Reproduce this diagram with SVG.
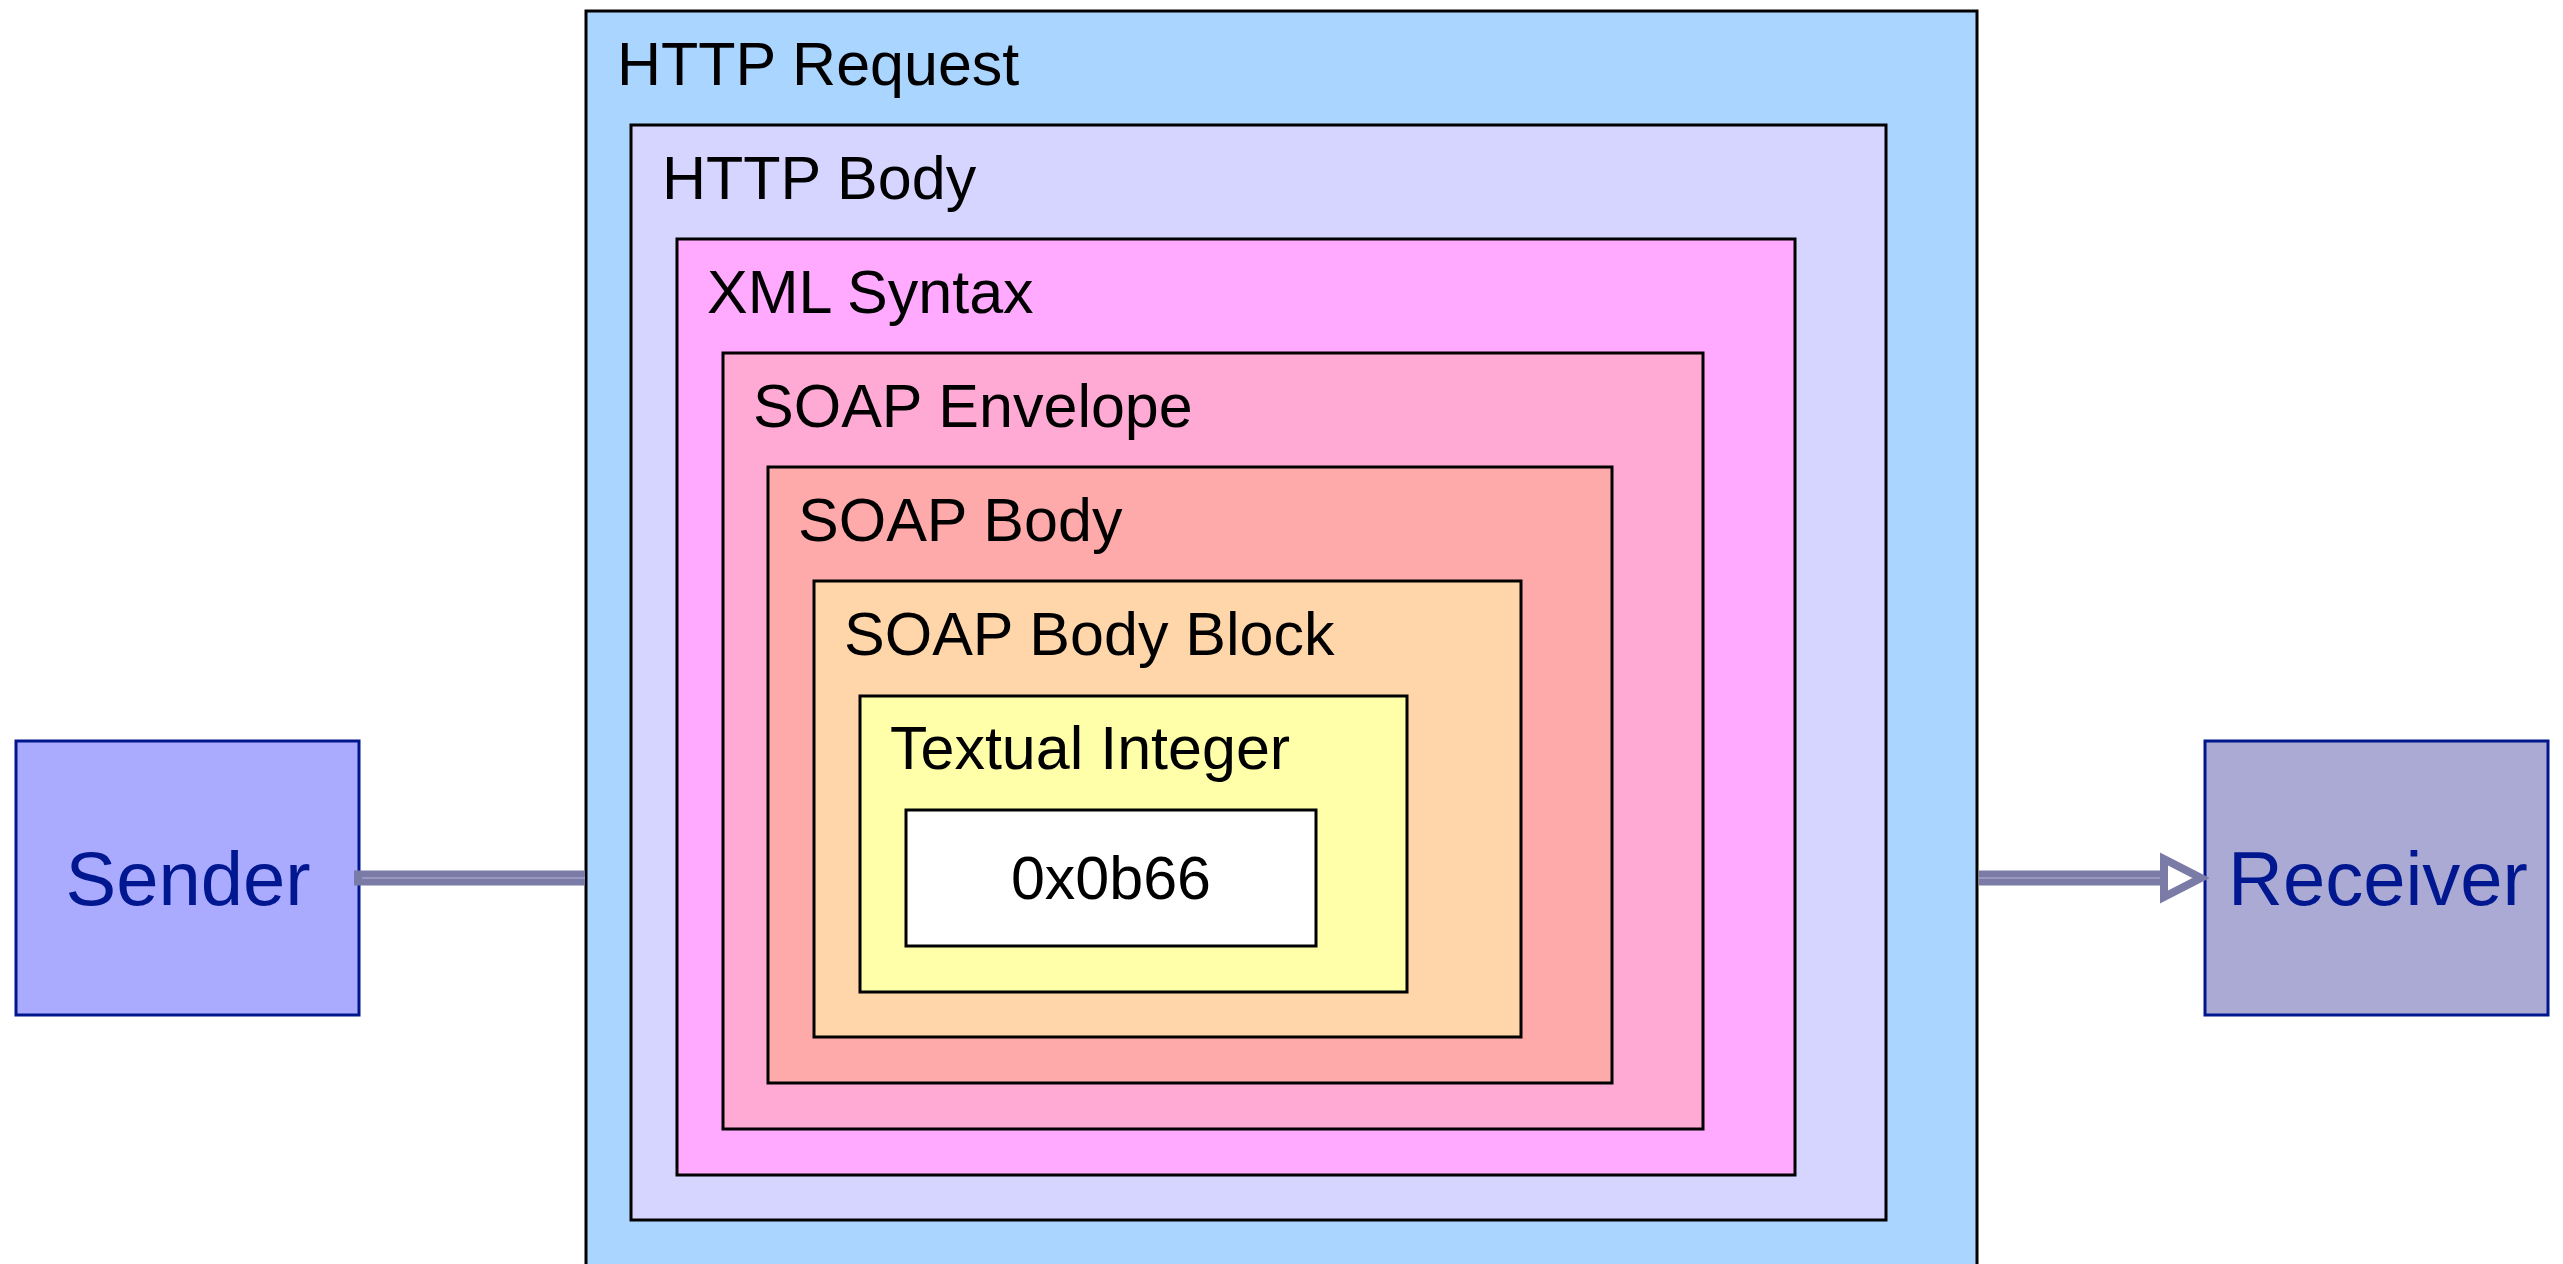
<svg xmlns="http://www.w3.org/2000/svg" width="2563" height="1264" viewBox="0 0 2563 1264">
  <style>
    .box { stroke: #000000; stroke-width: 3; }
    .lbl { font-family: "Liberation Sans", Arial, sans-serif; font-size: 61px; fill: #000000; }
    .actor { stroke: #00168c; stroke-width: 3; }
    .alb { font-family: "Liberation Sans", Arial, sans-serif; font-size: 76px; fill: #00178f; text-anchor: middle; }
    .conn { stroke: #7b7ba8; stroke-width: 15; fill: none; }
    .inner { stroke: #a3a3c8; stroke-width: 1.5; fill: none; }
  </style>
  <rect x="0" y="0" width="2563" height="1264" fill="#ffffff"/>
  <g id="sender">
    <rect class="actor" x="16" y="741" width="343" height="274" fill="#aaaaff"/>
    <text class="alb" x="188" y="905">Sender</text>
  </g>
  <g id="receiver">
    <rect class="actor" x="2205" y="741" width="343" height="274" fill="#aaaad5"/>
    <text class="alb" x="2378" y="905">Receiver</text>
  </g>
  <g id="http-request">
    <rect class="box" x="586" y="11" width="1391" height="1300" fill="#aad5ff"/>
    <text class="lbl" x="617" y="85">HTTP Request</text>
  </g>
  <g id="http-body">
    <rect class="box" x="631" y="125" width="1255" height="1095" fill="#d5d5ff"/>
    <text class="lbl" x="662" y="199">HTTP Body</text>
  </g>
  <g id="xml-syntax">
    <rect class="box" x="677" y="239" width="1118" height="936" fill="#ffaaff"/>
    <text class="lbl" x="707" y="313">XML Syntax</text>
  </g>
  <g id="soap-envelope">
    <rect class="box" x="723" y="353" width="980" height="776" fill="#ffaad5"/>
    <text class="lbl" x="753" y="427">SOAP Envelope</text>
  </g>
  <g id="soap-body">
    <rect class="box" x="768" y="467" width="844" height="616" fill="#ffaaaa"/>
    <text class="lbl" x="798" y="541">SOAP Body</text>
  </g>
  <g id="soap-body-block">
    <rect class="box" x="814" y="581" width="707" height="456" fill="#ffd5aa"/>
    <text class="lbl" x="844" y="655">SOAP Body Block</text>
  </g>
  <g id="textual-integer">
    <rect class="box" x="860" y="696" width="547" height="296" fill="#ffffaa"/>
    <text class="lbl" x="890" y="769">Textual Integer</text>
  </g>
  <g id="value">
    <rect class="box" x="906" y="810" width="410" height="136" fill="#ffffff"/>
    <text class="lbl" x="1111" y="899" text-anchor="middle">0x0b66</text>
  </g>
  <g id="connectors">
    <line class="conn" x1="354" y1="878" x2="585" y2="878"/>
    <line class="inner" x1="362" y1="878" x2="585" y2="878"/>
    <line class="conn" x1="1979" y1="878" x2="2166" y2="878"/>
    <line class="inner" x1="1979" y1="878" x2="2160" y2="878"/>
    <polygon points="2164,859 2201,878 2164,897" fill="#ffffff" stroke="#7b7ba8" stroke-width="8" stroke-linejoin="miter"/>
  </g>
</svg>
